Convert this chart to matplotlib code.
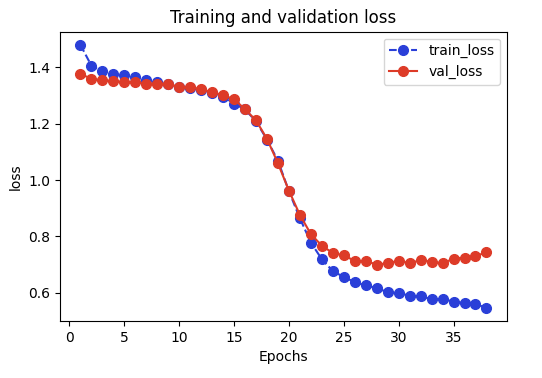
import matplotlib
matplotlib.use('Agg')
import matplotlib.pyplot as plt

epochs = list(range(1, 39))

train_loss = [1.479, 1.405, 1.385, 1.376, 1.371, 1.364, 1.356, 1.346, 1.341, 1.331,
              1.326, 1.318, 1.308, 1.296, 1.271, 1.250, 1.208, 1.143, 1.068, 0.960,
              0.864, 0.778, 0.719, 0.677, 0.656, 0.638, 0.626, 0.617, 0.602, 0.599,
              0.590, 0.587, 0.578, 0.578, 0.569, 0.564, 0.560, 0.547]

val_loss = [1.376, 1.359, 1.353, 1.350, 1.347, 1.346, 1.342, 1.342, 1.340, 1.330,
            1.329, 1.322, 1.311, 1.301, 1.286, 1.251, 1.211, 1.146, 1.059, 0.962,
            0.876, 0.808, 0.767, 0.741, 0.733, 0.713, 0.713, 0.700, 0.705, 0.714,
            0.705, 0.716, 0.710, 0.705, 0.721, 0.725, 0.729, 0.745]


def plot_losses():
    fig = plt.figure(figsize=(5.42, 3.78), dpi=100)
    ax = fig.add_axes([0.111, 0.151, 0.824, 0.765])

    ax.plot(epochs, train_loss, '--o', color='#2a3fd8', markersize=7,
            label='train_loss')
    ax.plot(epochs, val_loss, '-o', color='#dd3b28', markersize=7,
            label='val_loss')

    ax.set_title('Training and validation loss')
    ax.set_xlabel('Epochs')
    ax.set_ylabel('loss')
    ax.set_yticks([0.6, 0.8, 1.0, 1.2, 1.4])
    ax.legend(loc='upper right')

    fig.savefig('out.png')


if __name__ == '__main__':
    plot_losses()
